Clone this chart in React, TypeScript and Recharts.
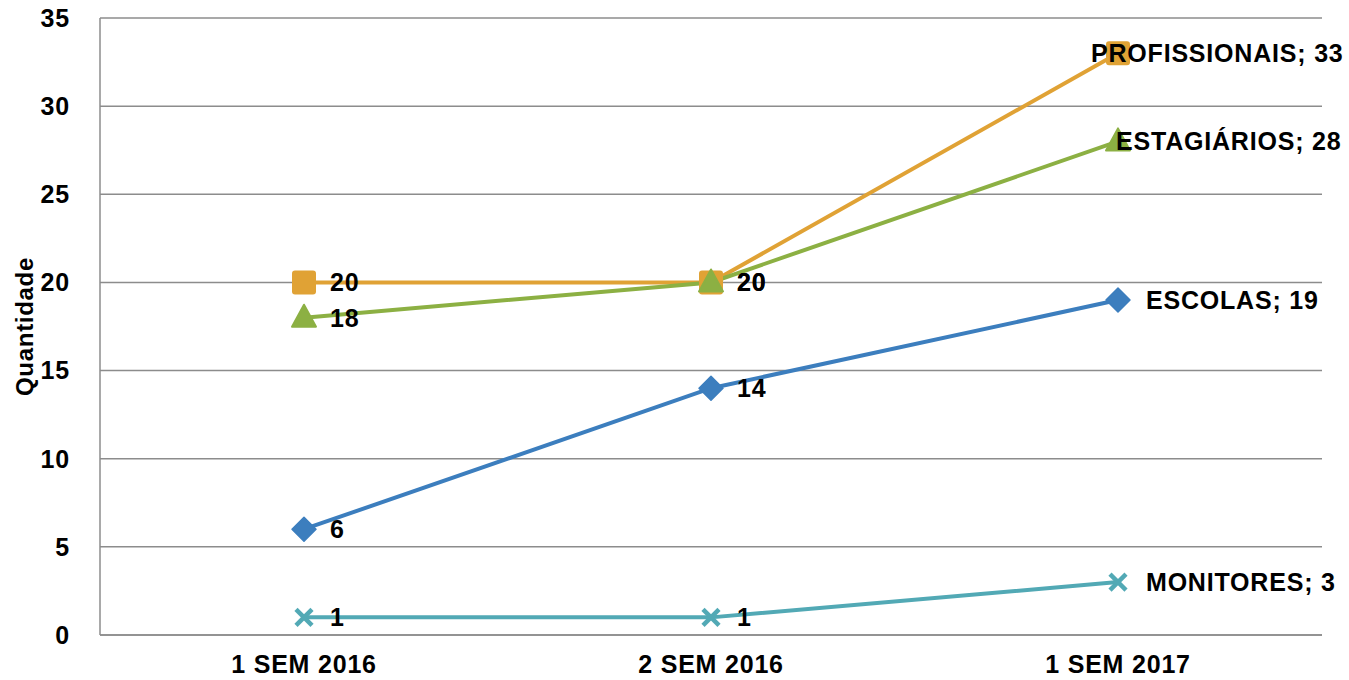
import React from "react";
import { LineChart, Line, XAxis, YAxis, CartesianGrid, LabelList } from "recharts";

const categories = ["1 SEM 2016", "2 SEM 2016", "1 SEM 2017"];
const escolas = [6, 14, 19];
const profissionais = [20, 20, 33];
const estagiarios = [18, 20, 28];
const monitores = [1, 1, 3];
const yTicks = [0, 5, 10, 15, 20, 25, 30, 35];

const data = categories.map((c, i) => ({
  cat: c,
  escolas: escolas[i],
  profissionais: profissionais[i],
  estagiarios: estagiarios[i],
  monitores: monitores[i],
}));

const FONT = "'Liberation Sans', Arial, sans-serif";
const FS = 25;
const LS = 0.8;

const diamondDot = (color: string) => (p: any) => {
  const { cx, cy, index } = p;
  const r = 12;
  return (
    <path
      key={"d" + index}
      d={`M${cx},${cy - r} L${cx + r},${cy} L${cx},${cy + r} L${cx - r},${cy} Z`}
      fill={color}
      stroke={color}
      strokeWidth={1.5}
      strokeLinejoin="round"
    />
  );
};
const squareDot = (color: string) => (p: any) => {
  const { cx, cy, index } = p;
  const s = 24;
  return <rect key={"s" + index} x={cx - s / 2} y={cy - s / 2} width={s} height={s} rx={3} fill={color} />;
};
const triDot = (color: string) => (p: any) => {
  const { cx, cy, index } = p;
  return (
    <path
      key={"t" + index}
      d={`M${cx},${cy - 13} L${cx + 12},${cy + 9} L${cx - 12},${cy + 9} Z`}
      fill={color}
      stroke={color}
      strokeWidth={2}
      strokeLinejoin="round"
    />
  );
};
const xDot = (color: string) => (p: any) => {
  const { cx, cy, index } = p;
  const r = 8;
  return (
    <g key={"x" + index} stroke={color} strokeWidth={4.5}>
      <line x1={cx - r} y1={cy - r} x2={cx + r} y2={cy + r} />
      <line x1={cx - r} y1={cy + r} x2={cx + r} y2={cy - r} />
    </g>
  );
};

const makeLabel = (name: string, lastOffset: number) => (p: any) => {
  const { x, y, value, index } = p;
  const last = index === categories.length - 1;
  return (
    <text
      key={"l" + index}
      x={x + (last ? lastOffset : 26)}
      y={y}
      dy="0.36em"
      textAnchor="start"
      fontFamily={FONT}
      fontWeight="bold"
      fontSize={FS}
      letterSpacing={LS}
      fill="#000"
    >
      {last ? `${name}; ${value}` : value}
    </text>
  );
};

const tickStyle = { fontFamily: FONT, fontWeight: "bold", fontSize: FS, fill: "#000", letterSpacing: LS };

export default function App() {
  return (
    <div style={{ position: "absolute", left: 0, top: 0, background: "#fff" }}>
      <LineChart width={1349} height={680} data={data} margin={{ top: 18, right: 27, bottom: 0, left: 0 }}>
        <CartesianGrid vertical={false} stroke="#8c8c8c" strokeWidth={1.5} />
        <XAxis
          dataKey="cat"
          padding={{ left: 204, right: 204 }}
          height={45}
          tickLine={false}
          axisLine={{ stroke: "#8c8c8c", strokeWidth: 1.5 }}
          tickMargin={14}
          tick={tickStyle}
        />
        <YAxis
          width={100}
          domain={[0, 35]}
          ticks={yTicks}
          interval={0}
          tickLine={false}
          axisLine={{ stroke: "#8c8c8c", strokeWidth: 1.5 }}
          tickMargin={24}
          tick={tickStyle}
          label={{
            value: "Quantidade",
            angle: -90,
            position: "insideLeft",
            offset: 24,
            style: {
              fontFamily: FONT,
              fontWeight: "bold",
              fontSize: 24,
              letterSpacing: 0.7,
              fill: "#000",
              textAnchor: "middle",
            },
          }}
        />
        <Line dataKey="escolas" stroke="#3C7EBE" strokeWidth={4} dot={diamondDot("#3C7EBE")} isAnimationActive={false}>
          <LabelList dataKey="escolas" content={makeLabel("ESCOLAS", 28)} />
        </Line>
        <Line dataKey="profissionais" stroke="#E0A235" strokeWidth={4} dot={squareDot("#E0A235")} isAnimationActive={false}>
          <LabelList dataKey="profissionais" content={makeLabel("PROFISSIONAIS", -27)} />
        </Line>
        <Line dataKey="estagiarios" stroke="#8CB043" strokeWidth={4} dot={triDot("#8CB043")} isAnimationActive={false}>
          <LabelList dataKey="estagiarios" content={makeLabel("ESTAGIÁRIOS", -2)} />
        </Line>
        <Line dataKey="monitores" stroke="#52A9B5" strokeWidth={4} dot={xDot("#52A9B5")} isAnimationActive={false}>
          <LabelList dataKey="monitores" content={makeLabel("MONITORES", 28)} />
        </Line>
      </LineChart>
    </div>
  );
}
